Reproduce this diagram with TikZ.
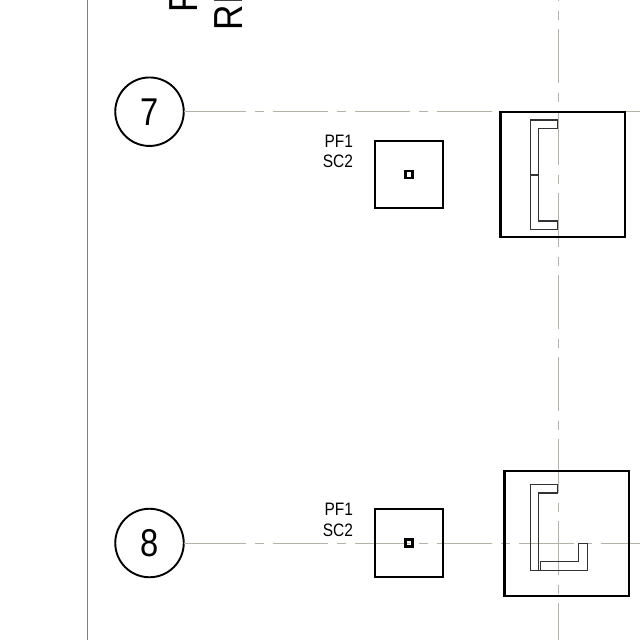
\documentclass[tikz,border=0pt]{standalone}
\usepackage{graphicx}
\usepackage{fontspec}
\setmainfont{Liberation Sans}
\definecolor{gridc}{HTML}{B4B4A6}
\definecolor{framec}{HTML}{808080}
\newcommand{\bubbletext}[1]{\raisebox{0pt}{\scalebox{.86}[1.02]{\fontsize{38}{38}\selectfont #1}}\hspace{1.5pt}}
\tikzset{
  x=1pt,y=-1pt,
  gridrow/.style={draw=gridc,line width=1pt,dash pattern=on 62.5pt off 9pt on 9pt off 9pt on 55pt off 9pt on 9pt off 9pt on 55pt off 9pt on 9pt off 9pt on 55pt off 9pt on 9pt off 9pt on 55pt off 9pt on 9pt off 9pt on 55pt off 9pt},
  gridcol/.style={draw=gridc,line width=1pt,dash pattern=on 54pt off 9.5pt on 9.5pt off 9pt},
  frameline/.style={draw=framec,line width=1.1pt},
  bubble/.style={circle,draw=black,line width=1.9pt,minimum size=68.5pt,inner sep=0pt,outer sep=0pt},
  tag/.style={anchor=base east,inner sep=0pt,outer sep=0pt,font=\fontsize{18}{18}\selectfont,xscale=.86},
  pier/.style={rectangle,draw=black,line width=2.2pt,minimum width=67.5pt,minimum height=67.5pt,inner sep=0pt,outer sep=0pt},
  dot/.style={rectangle,draw=black,line width=2.6pt,minimum size=6.8pt,inner sep=0pt,outer sep=0pt},
  slab/.style={rectangle,draw=black,line width=2.4pt,minimum width=124.8pt,minimum height=125pt,inner sep=0pt,outer sep=0pt},
  steel/.style={draw=black!80,line width=1.3pt,line join=miter},
  title/.style={rotate=90,anchor=base west,inner sep=0pt,outer sep=0pt,font=\fontsize{40.5}{40.5}\selectfont,xscale=.87},
}
\begin{document}
\begin{tikzpicture}
\useasboundingbox (0,0) rectangle (640,640);
\clip (0,0) rectangle (640,640);
\fill[white] (0,0) rectangle (640,640);
% named free ends
\coordinate (frameT) at (87.5,0);
\coordinate (frameB) at (87.5,640);
\coordinate (colT) at (558.5,-53);
\coordinate (colB) at (558.5,640);
\coordinate (row7E) at (640,111.7);
\coordinate (row8E) at (640,543);
% bubbles
\node[bubble] (c7) at (149.5,111.7) {\bubbletext{7}};
\node[bubble] (c8) at (149.5,543) {\bubbletext{8}};
% grid lines
\draw[frameline] (frameT) -- (frameB);
\draw[gridcol] (colT) -- (colB);
\draw[gridrow] (c7.east) -- (row7E);
\draw[gridrow] (c8.east) -- (row8E);
% title fragments
\node[title] (t1) at (197,12) {F};
\node[title] (t2) at (242,30) {RI};
% row 7
\node[pier] (p7) at (409,174.5) {};
\node[dot] (d7) at (408.8,174.5) {};
\node[tag] (a7) at (353,147) {PF1};
\node[tag] (b7) at (353,167) {SC2};
\node[slab] (s7) at (562.8,174.4) {};
\draw[steel] (557.7,128.3) -- (538.7,128.3) -- (538.7,221) -- (557.7,221) -- (557.7,229.3) -- (530.3,229.3) -- (530.3,120) -- (557.7,120) -- cycle;
\draw[steel,line width=1.7pt] (530.3,174.7) -- (538.7,174.7);
% row 8
\node[pier] (p8) at (409,543) {};
\node[dot] (d8) at (408.8,543) {};
\node[tag] (a8) at (353,515) {PF1};
\node[tag] (b8) at (353,536) {SC2};
\node[slab] (s8) at (566.8,533.5) {};
\draw[steel] (557.7,493) -- (538.7,493) -- (538.7,570.3) -- (530.3,570.3) -- (530.3,484.3) -- (557.7,484.3) -- cycle;
\draw[steel] (538.7,570.3) -- (587.3,570.3) -- (587.3,543.3) -- (578.3,543.3) -- (578.3,561.7) -- (540.5,561.7) -- (540.5,570.3);
\end{tikzpicture}
\end{document}
